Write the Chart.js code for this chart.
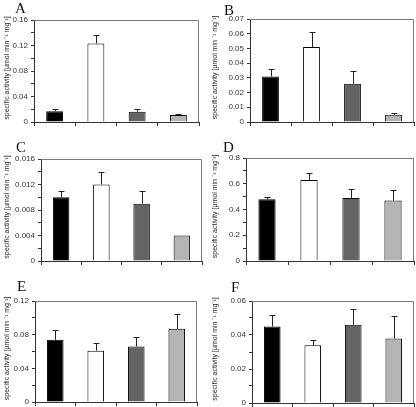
<!DOCTYPE html>
<html>
<head>
<meta charset="utf-8">
<script src="https://cdn.jsdelivr.net/npm/chart.js@4/dist/chart.umd.min.js"></script>
<style>
  html, body { margin: 0; padding: 0; background: #fff; }
  #page { position: relative; width: 416px; height: 407px; overflow: hidden; }
  .panel { position: absolute; }
  .letter { position: absolute; font-family: "Liberation Serif", "DejaVu Serif", serif; font-size: 15px; line-height: 15px; color: #111; }
</style>
</head>
<body>
<div id="page"></div>
<script>
// four treatments, no x labels in the figure
const groups = ['1', '2', '3', '4'];
const barColors = ['#000000', '#ffffff', '#646464', '#b4b4b4'];
const yTitle = 'specific activity [µmol min ⁻¹ mg⁻¹]';

// bar heights and upper error (+SD) for each panel
const valuesA = [0.017, 0.123, 0.016, 0.011];
const errorsA = [0.003, 0.013, 0.004, 0.002];
const valuesB = [0.031, 0.051, 0.026, 0.005];
const errorsB = [0.005, 0.010, 0.009, 0.001];
const valuesC = [0.010, 0.012, 0.009, 0.004];
const errorsC = [0.001, 0.002, 0.002, 0];
const valuesD = [0.48, 0.63, 0.49, 0.47];
const errorsD = [0.02, 0.05, 0.07, 0.08];
const valuesE = [0.074, 0.061, 0.066, 0.087];
const errorsE = [0.011, 0.009, 0.011, 0.017];
const valuesF = [0.045, 0.034, 0.046, 0.038];
const errorsF = [0.007, 0.003, 0.009, 0.013];

// labelled y ticks per panel, and minor ticks per labelled step
const yTicksA = [0, 0.04, 0.08, 0.12, 0.16];
const yTicksB = [0, 0.01, 0.02, 0.03, 0.04, 0.05, 0.06, 0.07];
const yTicksC = [0, 0.004, 0.008, 0.012, 0.016];
const yTicksD = [0, 0.2, 0.4, 0.6, 0.8];
const yTicksE = [0, 0.04, 0.08, 0.12];
const yTicksF = [0, 0.02, 0.04, 0.06];
const minorSplit = [2, 1, 2, 2, 2, 2];

// page layout: panel left edge and plot box (L, T, R, B)
const layouts = [
  { px: 0,   L: 34,  T: 20,  R: 199, B: 122, lx: 15,  ly: 1 },
  { px: 208, L: 250, T: 19,  R: 414, B: 122, lx: 224, ly: 3 },
  { px: 0,   L: 41,  T: 159, R: 202, B: 261, lx: 16,  ly: 140 },
  { px: 208, L: 246, T: 158, R: 414, B: 261, lx: 223, ly: 140 },
  { px: 0,   L: 35,  T: 301, R: 197, B: 402, lx: 17,  ly: 279 },
  { px: 208, L: 252, T: 301, R: 414, B: 403, lx: 231, ly: 280 }
];

const panels = [
  ['A', valuesA, errorsA, yTicksA],
  ['B', valuesB, errorsB, yTicksB],
  ['C', valuesC, errorsC, yTicksC],
  ['D', valuesD, errorsD, yTicksD],
  ['E', valuesE, errorsE, yTicksE],
  ['F', valuesF, errorsF, yTicksF]
];

// grey plot frame behind bars, error bars and rotated y title on top
const panelDecor = {
  id: 'panelDecor',
  beforeDatasetsDraw(chart) {
    const a = chart.chartArea, ctx = chart.ctx;
    ctx.save();
    ctx.strokeStyle = '#7a7a7a';
    ctx.lineWidth = 1;
    ctx.beginPath();
    ctx.moveTo(a.left, a.top + 0.5);
    ctx.lineTo(a.right - 0.5, a.top + 0.5);
    ctx.lineTo(a.right - 0.5, a.bottom);
    ctx.stroke();
    ctx.restore();
  },
  afterDatasetsDraw(chart) {
    const ctx = chart.ctx, ds = chart.data.datasets[0], y = chart.scales.y;
    ctx.save();
    ctx.strokeStyle = '#222';
    ctx.lineWidth = 1;
    chart.getDatasetMeta(0).data.forEach((bar, i) => {
      const e = ds.errors[i];
      if (!e) return;
      const x = Math.round(bar.x) + 0.5;
      const y0 = y.getPixelForValue(ds.data[i]);
      const y1 = Math.round(y.getPixelForValue(ds.data[i] + e)) + 0.5;
      ctx.beginPath();
      ctx.moveTo(x, y0);
      ctx.lineTo(x, y1);
      ctx.moveTo(x - 3, y1);
      ctx.lineTo(x + 3, y1);
      ctx.stroke();
    });
    ctx.restore();
  },
  afterDraw(chart) {
    const a = chart.chartArea, ctx = chart.ctx;
    ctx.save();
    ctx.translate(7, (a.top + a.bottom) / 2 - 3);
    ctx.rotate(-Math.PI / 2);
    ctx.font = '7px "Liberation Sans", Arial, sans-serif';
    ctx.fillStyle = '#222';
    ctx.textAlign = 'center';
    ctx.textBaseline = 'middle';
    ctx.fillText(yTitle, 0, 0);
    ctx.restore();
  }
};

function fmt(v) {
  return v === 0 ? '0' : String(parseFloat(v.toFixed(4)));
}

const page = document.getElementById('page');

panels.forEach(([letter, values, errors, yTicks], idx) => {
  const lay = layouts[idx];
  const major = yTicks[1];
  const step = major / minorSplit[idx];
  const w = 208, h = lay.B - lay.T + 18;

  const div = document.createElement('div');
  div.className = 'panel';
  div.style.left = lay.px + 'px';
  div.style.top = (lay.T - 10) + 'px';
  const canvas = document.createElement('canvas');
  canvas.width = w;
  canvas.height = h;
  div.appendChild(canvas);
  page.appendChild(div);

  const lab = document.createElement('div');
  lab.className = 'letter';
  lab.style.left = lay.lx + 'px';
  lab.style.top = lay.ly + 'px';
  lab.textContent = letter;
  page.appendChild(lab);

  new Chart(canvas.getContext('2d'), {
    type: 'bar',
    data: {
      labels: groups,
      datasets: [{
        data: values,
        errors: errors,
        backgroundColor: barColors,
        borderColor: '#000',
        borderWidth: 1,
        barPercentage: 0.41,
        categoryPercentage: 1.0
      }]
    },
    options: {
      responsive: false,
      animation: false,
      devicePixelRatio: 1,
      layout: { padding: { top: 10, right: lay.px + w - lay.R, left: 0, bottom: 0 } },
      plugins: { legend: { display: false }, tooltip: { enabled: false } },
      scales: {
        x: {
          offset: true,
          grid: { offset: true, drawOnChartArea: false, tickLength: 4, color: '#333' },
          border: { color: '#333' },
          ticks: { callback: () => '' },
          afterFit: (s) => { s.height = 8; }
        },
        y: {
          min: 0,
          max: yTicks[yTicks.length - 1],
          grid: { drawOnChartArea: false, tickLength: 3, color: '#333' },
          border: { color: '#333' },
          ticks: {
            stepSize: step,
            autoSkip: false,
            padding: 3,
            color: '#333',
            font: { size: 8, family: '"Liberation Sans", Arial, sans-serif' },
            callback: (v) => {
              const r = v / major;
              return Math.abs(r - Math.round(r)) < 1e-6 ? fmt(v) : '';
            }
          },
          afterFit: (s) => { s.width = lay.L - lay.px; }
        }
      }
    },
    plugins: [panelDecor]
  });
});
</script>
</body>
</html>
